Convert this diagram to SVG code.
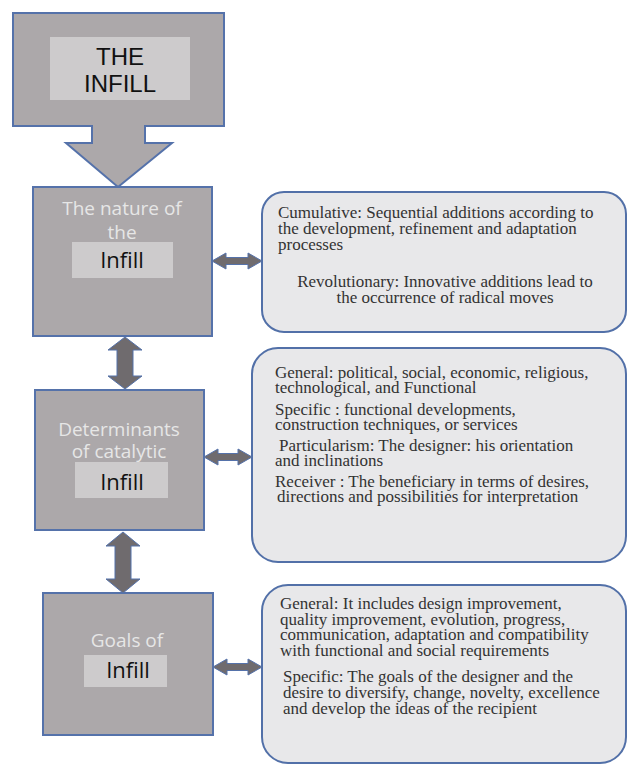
<svg xmlns="http://www.w3.org/2000/svg" width="628" height="767" viewBox="0 0 628 767">
<style>
.node{fill:#aca8aa;stroke:#5572aa;stroke-width:2}
.inner{fill:#d2d1d2;opacity:0.85}
.title{font-family:"Open Sans","Noto Sans",sans-serif;font-size:19px;fill:#e6e6e6;text-anchor:middle}
.infill{font-family:"Open Sans","Noto Sans",sans-serif;font-size:22px;fill:#111;text-anchor:middle}
.box{fill:#e8e8ea;stroke:#5270a8;stroke-width:2}
.t{font-family:"Liberation Serif","Times New Roman",serif;font-size:17px;fill:#333}
.arrow{fill:#6f6b6e;stroke:#5572aa;stroke-width:1}
</style>
<rect width="628" height="767" fill="#ffffff"/>
<g id="the-infill">
<path class="node" d="M13,13 H224 V126 H145 V143 H172 L118,187 L66,143 H92 V126 H13 Z"/>
<rect class="inner" x="50" y="37" width="140" height="63"/>
<text x="120" y="65" font-family="Liberation Sans,Arial,sans-serif" font-size="24" fill="#111" text-anchor="middle">THE</text>
<text x="120" y="92" font-family="Liberation Sans,Arial,sans-serif" font-size="24" fill="#111" text-anchor="middle">INFILL</text>
</g>
<g id="nature">
<rect class="node" x="33" y="187" width="179" height="149"/>
<text class="title" x="122" y="215">The nature of</text>
<text class="title" x="122" y="239">the</text>
<rect class="inner" x="72" y="242" width="101" height="36"/>
<text class="infill" x="122" y="268">Infill</text>
</g>
<g id="determinants">
<rect class="node" x="35" y="390" width="169" height="140"/>
<text class="title" x="119" y="436">Determinants</text>
<text class="title" x="119" y="458">of catalytic</text>
<rect class="inner" x="75" y="462" width="93" height="36"/>
<text class="infill" x="122" y="490">Infill</text>
</g>
<g id="goals">
<rect class="node" x="43" y="593" width="170" height="142"/>
<text class="title" x="127" y="647">Goals of</text>
<rect class="inner" x="84" y="655" width="83" height="32"/>
<text class="infill" x="128" y="678">Infill</text>
</g>
<g id="box-nature">
<rect class="box" x="262" y="192" width="364" height="140" rx="22"/>
<text class="t" x="278" y="218">Cumulative: Sequential additions according to</text>
<text class="t" x="278" y="234">the development, refinement and adaptation</text>
<text class="t" x="278" y="250">processes</text>
<text class="t" x="445" y="287" text-anchor="middle">Revolutionary: Innovative additions lead to</text>
<text class="t" x="445" y="303" text-anchor="middle">the occurrence of radical moves</text>
</g>
<g id="box-determinants">
<rect class="box" x="252" y="348" width="374" height="214" rx="26"/>
<text class="t" x="275" y="378">General: political, social, economic, religious,</text>
<text class="t" x="275" y="393">technological, and Functional</text>
<text class="t" x="275" y="415">Specific : functional developments,</text>
<text class="t" x="275" y="430">construction techniques, or services</text>
<text class="t" x="279" y="451">Particularism: The designer: his orientation</text>
<text class="t" x="275" y="466">and inclinations</text>
<text class="t" x="275" y="487">Receiver : The beneficiary in terms of desires,</text>
<text class="t" x="277" y="502">directions and possibilities for interpretation</text>
</g>
<g id="box-goals">
<rect class="box" x="262" y="585" width="364" height="178" rx="26"/>
<text class="t" x="280" y="609">General: It includes design improvement,</text>
<text class="t" x="280" y="625">quality improvement, evolution, progress,</text>
<text class="t" x="280" y="640">communication, adaptation and compatibility</text>
<text class="t" x="280" y="656">with functional and social requirements</text>
<text class="t" x="283" y="682">Specific: The goals of the designer and the</text>
<text class="t" x="283" y="698">desire to diversify, change, novelty, excellence</text>
<text class="t" x="283" y="714">and develop the ideas of the recipient</text>
</g>
<g id="connectors">
<polygon class="arrow" points="125,337 142,350 133,350 133,376 142,376 125,389 108,376 117,376 117,350 108,350"/>
<polygon class="arrow" points="123,532 140,546 131,546 131,579 140,579 123,593 106,579 115,579 115,546 106,546"/>
<polygon class="arrow" points="212,261 226,253 226,257.5 248,257.5 248,253 262,261 248,269 248,264.5 226,264.5 226,269"/>
<polygon class="arrow" points="204,457 218,449 218,453.5 238,453.5 238,449 252,457 238,465 238,460.5 218,460.5 218,465"/>
<polygon class="arrow" points="213,667 227,659 227,663.5 248,663.5 248,659 262,667 248,675 248,670.5 227,670.5 227,675"/>
</g>
</svg>
